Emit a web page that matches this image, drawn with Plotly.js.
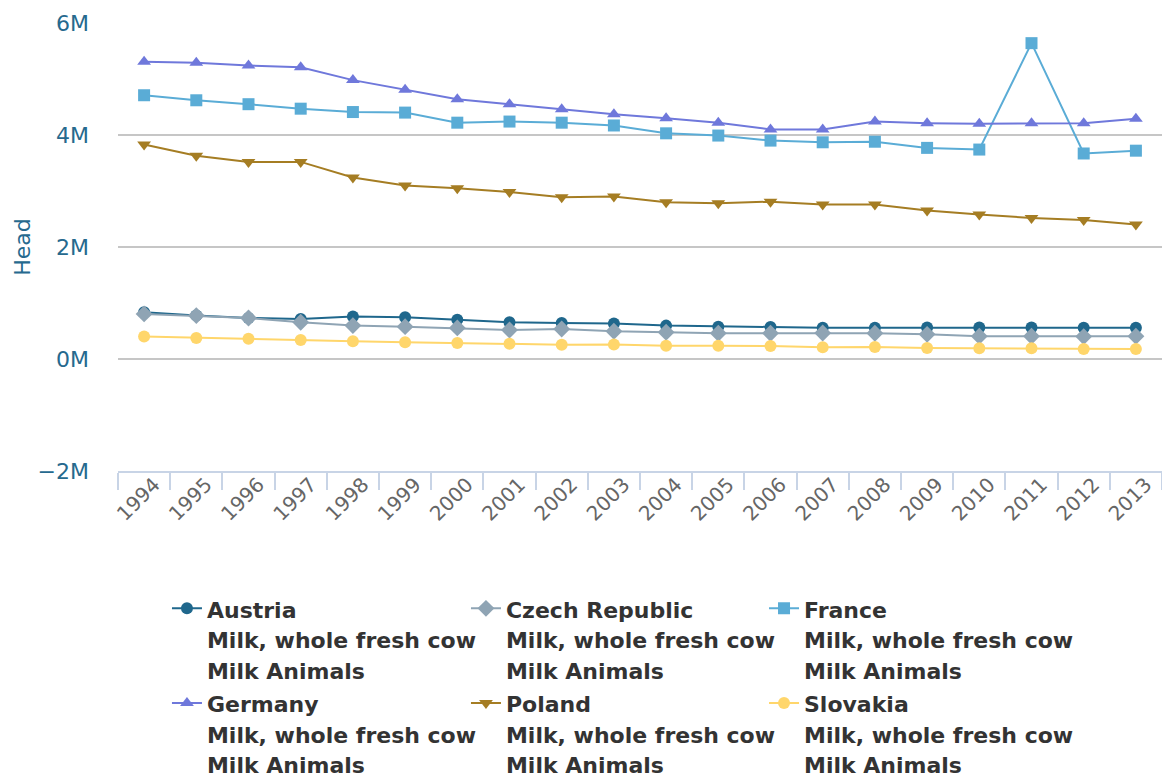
<!DOCTYPE html>
<html>
<head>
<meta charset="utf-8">
<script src="https://cdn.plot.ly/plotly-3.0.1.min.js"></script>
<style>
html,body{margin:0;padding:0;background:#fff;}
#chart{width:1162px;height:779px;}
</style>
</head>
<body>
<div id="chart"></div>
<script>
const years = ["1994","1995","1996","1997","1998","1999","2000","2001","2002","2003","2004","2005","2006","2007","2008","2009","2010","2011","2012","2013"];

const austria = [835000,775000,733000,716000,757000,746000,703000,656000,644000,632000,596000,578000,572000,560000,560000,562000,563000,562000,558000,558000];
const czech   = [805000,775000,733000,656000,596000,578000,555000,519000,537000,495000,477000,460000,460000,465000,460000,440000,406000,406000,400000,406000];
const france  = [4710000,4620000,4550000,4470000,4410000,4400000,4220000,4240000,4220000,4170000,4030000,3990000,3900000,3870000,3880000,3770000,3740000,5640000,3670000,3720000];
const germany = [5310000,5290000,5240000,5210000,4980000,4810000,4640000,4550000,4460000,4370000,4300000,4220000,4100000,4100000,4240000,4210000,4200000,4210000,4210000,4290000];
const poland  = [3830000,3630000,3520000,3520000,3240000,3100000,3050000,2980000,2890000,2900000,2800000,2780000,2810000,2760000,2760000,2650000,2580000,2520000,2480000,2400000];
const slovakia= [400000,376000,363000,340000,317000,298000,286000,274000,256000,260000,238000,238000,233000,209000,215000,197000,191000,190000,179000,179000];

const itemLines = ["Milk, whole fresh cow","Milk Animals"];
const seriesNames = ["Austria","Czech Republic","France","Germany","Poland","Slovakia"];
const seriesValues = [austria, czech, france, germany, poland, slovakia];
const seriesColors = ["#1f678c","#8fa4b4","#5aacd6","#6f78db","#a57d23","#ffd66b"];
const seriesSymbols = ["circle","diamond","square","triangle-up","triangle-down","circle"];
const legendIds = ["legend","legend2","legend3","legend","legend2","legend3"];

const yTickVals = [-2000000,0,2000000,4000000,6000000];
const yTickText = ["\u22122M","0M","2M","4M","6M"];

function legendLabel(name){
  return [name].concat(itemLines).map(s=>'<span style="font-size:22px">'+s+'</span>').join("<br>");
}

const traces = seriesNames.map((n,i)=>({
  type:"scatter",
  mode:"lines+markers",
  name:legendLabel(n),
  legend:legendIds[i],
  x:years,
  y:seriesValues[i],
  line:{color:seriesColors[i], width:2},
  marker:{color:seriesColors[i], symbol:seriesSymbols[i], size: seriesSymbols[i]==="diamond"?13:12}
}));

const legendFont = {family:"DejaVu Sans, sans-serif", size:23.5, color:"#333", weight:"bold"};
function legendAt(xPaper){
  return {
    orientation:"v",
    xref:"paper", x:xPaper, xanchor:"left",
    yref:"container", y:0.247, yanchor:"top",
    valign:"top",
    traceorder:"normal",
    font:legendFont,
    bgcolor:"rgba(0,0,0,0)"
  };
}

const layout = {
  width:1162, height:779,
  paper_bgcolor:"#fff", plot_bgcolor:"#fff",
  margin:{l:118, r:0, t:23, b:308},
  font:{family:"DejaVu Sans, sans-serif", size:22, color:"#333"},
  showlegend:true,
  xaxis:{
    type:"category",
    range:[-0.5,19.5],
    showgrid:false,
    showline:true, linecolor:"#c8d4e6", linewidth:2,
    ticks:"outside", tickson:"boundaries", ticklen:17, tickwidth:2, tickcolor:"#c8d4e6",
    tickangle:-45,
    ticklabelstandoff:-8,
    ticklabelshift:10,
    tickfont:{family:"DejaVu Sans, sans-serif", size:20, color:"#666"},
    zeroline:false
  },
  yaxis:{
    range:[-2000000,6000000],
    tickvals:yTickVals, ticktext:yTickText,
    showgrid:true, gridcolor:"#c6c6c6", gridwidth:2,
    zeroline:false, showline:false, ticks:"",
    ticklabelstandoff:28,
    tickfont:{family:"DejaVu Sans, sans-serif", size:22, color:"#26698e"},
    title:{text:"Head", font:{family:"DejaVu Sans, sans-serif", size:22, color:"#26698e"}, standoff:0}
  },
  legend:legendAt(0.0469),
  legend2:legendAt(0.3333),
  legend3:legendAt(0.6188)
};

Plotly.newPlot("chart", traces, layout, {displayModeBar:false, staticPlot:true});
</script>
</body>
</html>
